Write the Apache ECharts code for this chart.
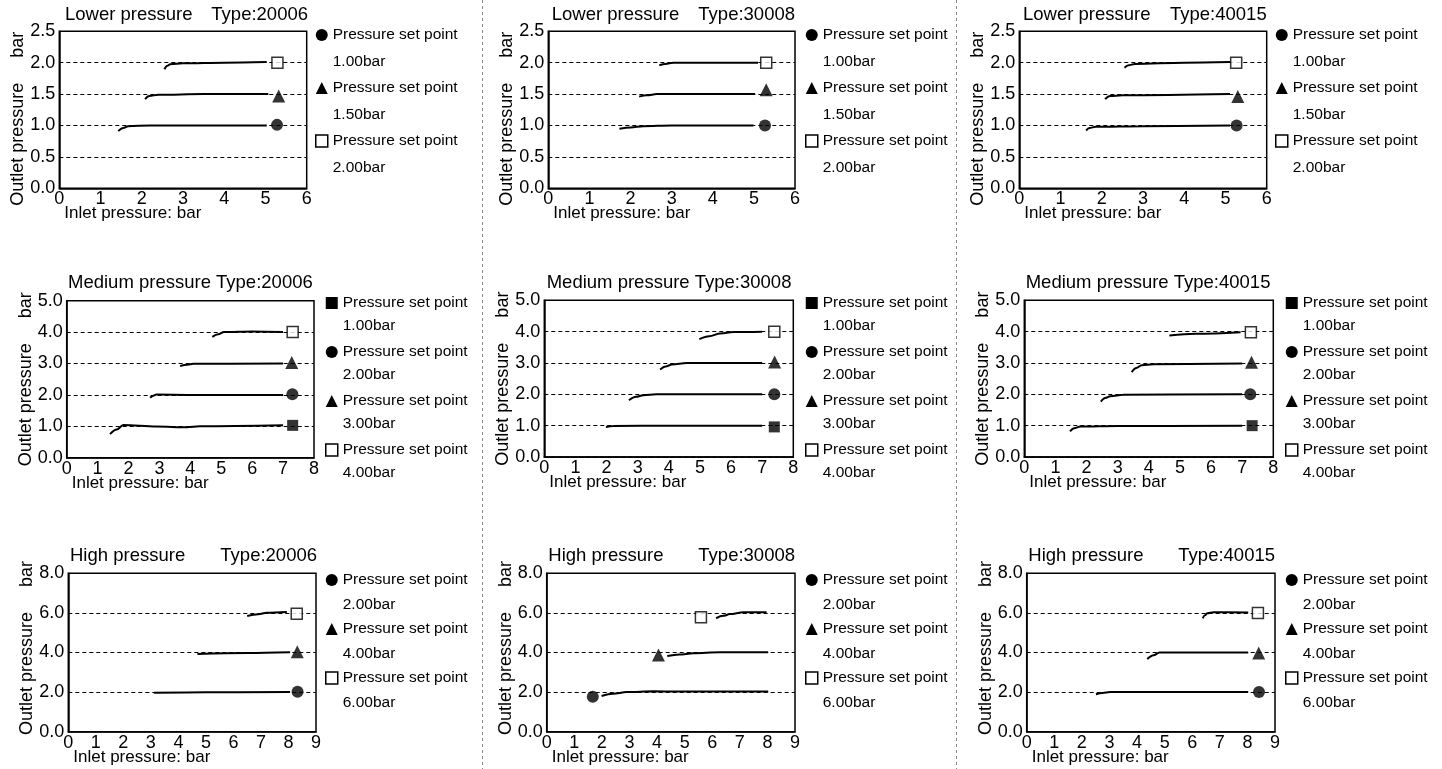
<!DOCTYPE html>
<html><head><meta charset="utf-8">
<script src="https://cdn.jsdelivr.net/npm/echarts@6/dist/echarts.min.js"></script>
<style>html,body{margin:0;padding:0;background:#fff}#c{width:1442px;height:769px}</style>
</head><body><div id="c"></div>
<script>
// ---------------- DATA ----------------
const setPointsLower  = ['1.00bar', '1.50bar', '2.00bar'];
const setPointsMedium = ['1.00bar', '2.00bar', '3.00bar', '4.00bar'];
const setPointsHigh   = ['2.00bar', '4.00bar', '6.00bar'];
const typesList = ['20006', '30008', '40015'];

// Lower pressure curves [inlet, outlet]
const curvesLower20006 = [
  [[1.43,0.91],[1.55,0.96],[1.67,0.99],[2.2,1.0],[3.5,1.0],[5.03,1.0]],
  [[2.08,1.42],[2.18,1.47],[2.4,1.49],[3.5,1.5],[5.07,1.5]],
  [[2.55,1.895],[2.62,1.95],[2.69,1.975],[3.0,1.99],[4.0,2.0],[5.03,2.01]]
];
const markersLower20006 = [[5.28,1.01],[5.32,1.47],[5.29,2.0]];

const curvesLower30008 = [
  [[1.73,0.95],[2.0,0.97],[2.31,0.99],[3.0,1.0],[4.99,1.0]],
  [[2.21,1.46],[2.4,1.48],[2.64,1.5],[5.03,1.5]],
  [[2.7,1.96],[2.85,1.98],[3.04,2.0],[5.1,2.0]]
];
const markersLower30008 = [[5.27,1.0],[5.3,1.57],[5.3,2.0]];

const curvesLower40015 = [
  [[1.62,0.92],[1.7,0.96],[1.85,0.98],[3.0,0.99],[5.11,1.0]],
  [[2.08,1.42],[2.2,1.47],[2.5,1.48],[5.11,1.5]],
  [[2.55,1.92],[2.65,1.96],[2.8,1.98],[4.0,2.0],[5.11,2.01]]
];
const markersLower40015 = [[5.27,1.0],[5.3,1.46],[5.26,2.0]];

// Medium pressure curves
const curvesMedium20006 = [
  [[1.4,0.75],[1.62,0.9],[1.83,1.04],[2.9,0.99],[3.9,0.97],[4.3,1.0],[7.0,1.03]],
  [[2.7,1.91],[2.8,1.97],[2.9,2.01],[4.0,2.0],[7.0,2.0]],
  [[3.67,2.92],[3.9,2.96],[4.1,2.99],[7.0,3.0]],
  [[4.71,3.85],[4.9,3.93],[5.09,4.0],[6.0,4.02],[7.0,4.0]]
];
const markersMedium20006 = [[7.31,1.03],[7.3,2.02],[7.28,3.03],[7.31,4.0]];

const curvesMedium30008 = [
  [[1.98,0.96],[2.22,0.99],[4.0,1.0],[7.0,1.0]],
  [[2.72,1.81],[2.95,1.92],[3.18,1.97],[3.6,2.0],[7.0,2.0]],
  [[3.72,2.79],[3.9,2.89],[4.1,2.95],[4.58,3.0],[7.0,3.0]],
  [[4.98,3.76],[5.3,3.85],[5.65,3.94],[6.08,3.99],[7.0,4.0]]
];
const markersMedium30008 = [[7.39,0.96],[7.39,2.0],[7.4,3.03],[7.39,4.0]];

const curvesMedium40015 = [
  [[1.47,0.82],[1.6,0.92],[1.8,0.97],[3.0,0.99],[7.0,1.0]],
  [[2.46,1.77],[2.6,1.88],[2.76,1.94],[3.18,1.99],[7.0,2.0]],
  [[3.45,2.71],[3.6,2.84],[3.77,2.93],[4.15,2.96],[7.0,2.98]],
  [[4.66,3.88],[5.5,3.93],[6.95,3.98]]
];
const markersMedium40015 = [[7.32,1.0],[7.26,2.0],[7.3,3.02],[7.28,3.98]];

// High pressure curves
const curvesHigh20006 = [
  [[3.11,1.97],[5.0,1.99],[8.06,2.0]],
  [[4.69,3.92],[6.5,3.97],[8.06,4.01]],
  [[6.5,5.84],[6.9,5.93],[7.21,6.01],[7.94,6.05]]
];
const markersHigh20006 = [[8.33,2.02],[8.32,4.04],[8.3,5.96]];

const curvesHigh30008 = [
  [[1.99,1.8],[2.4,1.92],[2.9,2.0],[3.87,2.04],[4.83,2.03],[8.03,2.03]],
  [[4.37,3.82],[4.8,3.9],[5.31,3.96],[6.27,4.01],[8.03,4.01]],
  [[6.14,5.73],[6.4,5.85],[6.64,5.94],[7.13,6.03],[7.97,6.03]]
];
const markersHigh30008 = [[1.67,1.77],[4.05,3.87],[5.59,5.78]];

const curvesHigh40015 = [
  [[2.51,1.89],[2.75,1.96],[3.02,2.0],[8.03,2.0]],
  [[4.37,3.67],[4.6,3.86],[4.81,4.0],[8.03,4.0]],
  [[6.38,5.73],[6.46,5.88],[6.55,5.98],[6.77,6.03],[8.03,6.02]]
];
const markersHigh40015 = [[8.42,2.0],[8.41,3.98],[8.38,5.99]];

// ---------------- LAYOUT / STYLE ----------------
const FONT = '"Liberation Sans", Arial, sans-serif';
const SYM = {
  circle:   {symbol:'circle',   size:12, style:{color:'#000'}},
  triangle: {symbol:'triangle', size:13, style:{color:'#000'}},
  square:   {symbol:'rect',     size:11, style:{color:'#000'}},
  empty:    {symbol:'rect',     size:11, style:{color:'#fff', borderColor:'#000', borderWidth:1.5}}
};
const rowCfg = {
  lower:  {title:'Lower pressure',  yMax:2.5, yInt:0.5, xMax:6, sp:setPointsLower,  syms:['circle','triangle','empty'], L:27, gap:-28, split:false, titleY:5.5, legendIcon:35, yNamePad:[0,18,0,0]},
  medium: {title:'Medium pressure', yMax:5,   yInt:1,   xMax:8, sp:setPointsMedium, syms:['square','circle','triangle','empty'], L:23, gap:-20, split:true, titleY:273.5, legendIcon:303, yNamePad:[0,0,0,0]},
  high:   {title:'High pressure',   yMax:8,   yInt:2,   xMax:9, sp:setPointsHigh,   syms:['circle','triangle','empty'], L:25, gap:-26, split:false, titleY:546.5, legendIcon:580, yNamePad:[0,0,0,9]}
};
const panels = [
  {row:'lower',  type:typesList[0], curves:curvesLower20006,  markers:markersLower20006,  g:[59.3,31.3,247.4,157],  lg:315,  tl:65,     tr:308},
  {row:'lower',  type:typesList[1], curves:curvesLower30008,  markers:markersLower30008,  g:[548.3,31.3,246.7,157], lg:805,  tl:551.7,  tr:795},
  {row:'lower',  type:typesList[2], curves:curvesLower40015,  markers:markersLower40015,  g:[1019.3,31.3,247.4,157],lg:1275, tl:1023,   tr:1266.7},
  {row:'medium', type:typesList[0], curves:curvesMedium20006, markers:markersMedium20006, g:[66.7,300.7,247.3,157], lg:325,  tl:68,     tr:314},
  {row:'medium', type:typesList[1], curves:curvesMedium30008, markers:markersMedium30008, g:[544.3,300.3,249,156.7],lg:805,  tl:546.7,  tr:791.7},
  {row:'medium', type:typesList[2], curves:curvesMedium40015, markers:markersMedium40015, g:[1024.3,300.3,249,156.7],lg:1285, tl:1025.7, tr:1272},
  {row:'high',   type:typesList[0], curves:curvesHigh20006,   markers:markersHigh20006,   g:[68.3,573.3,247.7,158.4],lg:325,  tl:70,     tr:317},
  {row:'high',   type:typesList[1], curves:curvesHigh30008,   markers:markersHigh30008,   g:[546.7,573.3,248.3,158.4],lg:805, tl:548.3,  tr:795},
  {row:'high',   type:typesList[2], curves:curvesHigh40015,   markers:markersHigh40015,   g:[1026.7,573.3,248.3,158.4],lg:1285,tl:1028.3, tr:1275}
];

const W = 1442;
const grids = [], xAxes = [], yAxes = [], series = [], legends = [], titles = [];
const tStyle = {fontSize:18.5, fontWeight:'normal', color:'#000', fontFamily:FONT};

panels.forEach((p, i) => {
  const rc = rowCfg[p.row];
  grids.push({left:p.g[0], top:p.g[1], width:p.g[2], height:p.g[3], show:true, borderColor:'#000', borderWidth:1.5, backgroundColor:'transparent'});
  xAxes.push({
    type:'value', gridIndex:i, min:0, max:rc.xMax, interval:1,
    axisLine:{show:true, onZero:false, lineStyle:{color:'#000', width:1.5}},
    axisTick:{show:false},
    axisLabel:{color:'#000', fontSize:18, margin:2, fontFamily:FONT, showMinLabel:true, showMaxLabel:true, hideOverlap:false},
    splitLine:{show:false},
    name:'Inlet pressure: bar', nameLocation:'start', nameGap:-5, nameMoveOverlap:false,
    nameTextStyle:{color:'#000', fontSize:17, fontFamily:FONT, align:'left', verticalAlign:'top', padding:[17,0,0,0]}
  });
  yAxes.push({
    type:'value', gridIndex:i, min:0, max:rc.yMax, interval:rc.yInt,
    axisLine:{show:true, onZero:false, lineStyle:{color:'#000', width:1.5}},
    axisTick:{show:false},
    axisLabel:{color:'#000', fontSize:18, margin:4, fontFamily:FONT, formatter:v => v.toFixed(1), showMinLabel:true, showMaxLabel:true, hideOverlap:false},
    splitLine:{show:true, lineStyle:{color:'#000', width:1, type:[4,3]}},
    name:'Outlet pressure     bar', nameLocation:'middle', nameGap:32, nameMoveOverlap:false,
    nameTextStyle:{color:'#000', fontSize:18, fontFamily:FONT, padding:rc.yNamePad}
  });
  const legendData = [];
  p.curves.forEach((c, j) => {
    const nm = 'P' + i + '|' + rc.sp[j];
    const s = SYM[rc.syms[j]];
    series.push({
      type:'line', name:nm, xAxisIndex:i, yAxisIndex:i, data:c, showSymbol:false, symbol:'none',
      smooth:0.35, smoothMonotone:'x', lineStyle:{color:'#000', width:2}, itemStyle:{color:'#000'}, z:2
    });
    series.push({
      type:'scatter', name:nm, xAxisIndex:i, yAxisIndex:i, data:[p.markers[j]],
      symbol:s.symbol, symbolSize:s.size, itemStyle:Object.assign({}, s.style), z:3
    });
    legendData.push({name:nm, icon:s.symbol, itemStyle:Object.assign({borderWidth:0}, s.style)});
  });
  legends.push({
    orient:'vertical', left:p.lg, top:rc.legendIcon - 1.5*rc.L, padding:0,
    itemWidth:12, itemHeight:12, itemGap:rc.gap, data:legendData,
    formatter: n => '\nPressure set point\n' + n.split('|')[1],
    textStyle:{color:'#000', fontSize:15.5, fontFamily:FONT, lineHeight:rc.L}
  });
  if (rc.split) {
    titles.push({text:rc.title + ' Type:' + p.type, left:p.tl, top:rc.titleY, padding:0, textStyle:tStyle});
  } else {
    titles.push({text:rc.title, left:p.tl, top:rc.titleY, padding:0, textStyle:tStyle});
    titles.push({text:'Type:' + p.type, right:W - p.tr, top:rc.titleY, padding:0, textStyle:tStyle});
  }
});

const chart = echarts.init(document.getElementById('c'));
chart.setOption({
  animation:false,
  backgroundColor:'#fff',
  title:titles,
  grid:grids, xAxis:xAxes, yAxis:yAxes, legend:legends, series:series,
  graphic:[
    {type:'line', shape:{x1:482.5, y1:0, x2:482.5, y2:769}, style:{stroke:'#888', lineWidth:1, lineDash:[3,3]}, silent:true},
    {type:'line', shape:{x1:956.5, y1:0, x2:956.5, y2:769}, style:{stroke:'#888', lineWidth:1, lineDash:[3,3]}, silent:true}
  ]
});
</script></body></html>
